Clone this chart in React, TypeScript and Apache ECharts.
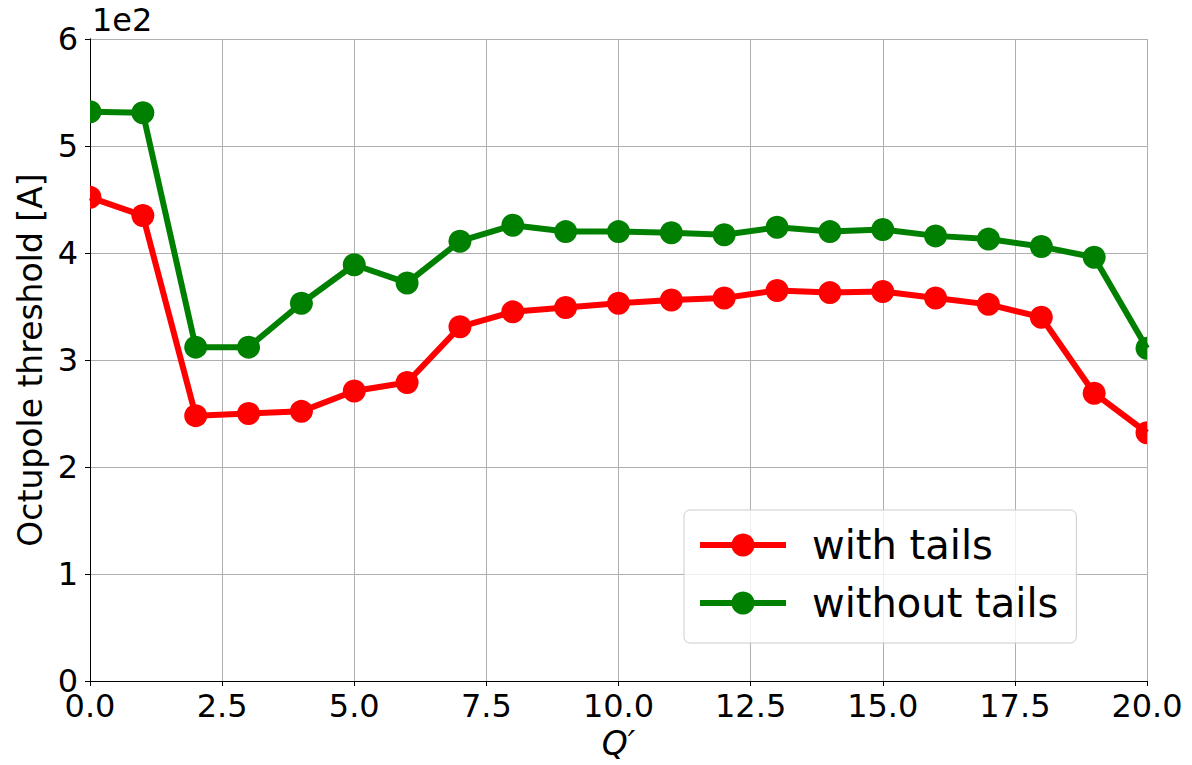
import React, { useEffect, useRef } from "react";
import * as echarts from "echarts";

const qPrime = [0, 1, 2, 3, 4, 5, 6, 7, 8, 9, 10, 11, 12, 13, 14, 15, 16, 17, 18, 19, 20];
const withTails = [452, 435, 248, 250, 252, 271, 279, 331, 345, 349, 353, 356, 358, 365, 363, 364, 358, 352, 340, 269, 232];
const withoutTails = [532, 531, 312, 312, 353, 389, 372, 411, 426, 420, 420, 419, 417, 424, 420, 422, 416, 413, 406, 396, 311];
const xTicks = { min: 0, max: 20, interval: 2.5 };
const yTicks = { min: 0, max: 600, interval: 100 };
const seriesNames = ["with tails", "without tails"];
const seriesColors = ["#ff0000", "#008000"];

const FONT = "DejaVu Sans";

export default function App() {
  const ref = useRef<HTMLDivElement>(null);
  useEffect(() => {
    if (!ref.current) return;
    const chart = echarts.init(ref.current, undefined, { renderer: "svg" });
    const datasets = [withTails, withoutTails];
    const series: any[] = [];
    datasets.forEach((vals, i) => {
      const pts = qPrime.map((q, k) => [q, vals[k]]);
      series.push({
        name: seriesNames[i],
        type: "line",
        data: pts,
        symbol: "circle",
        symbolSize: 23,
        showSymbol: false,
        clip: true,
        lineStyle: { color: seriesColors[i], width: 6 },
        itemStyle: { color: seriesColors[i] },
        z: 2,
      });
      series.push({
        name: seriesNames[i] + " markers",
        type: "custom",
        data: pts,
        clip: true,
        encode: { x: 0, y: 1 },
        z: 3,
        renderItem: (params: any, api: any) => {
          const p = api.coord([api.value(0), api.value(1)]);
          return {
            type: "circle",
            shape: { cx: p[0], cy: p[1], r: 11.5 },
            style: { fill: seriesColors[i] },
          };
        },
      });
    });

    chart.setOption({
      animation: false,
      backgroundColor: "#ffffff",
      textStyle: { fontFamily: FONT },
      grid: { left: 90, right: 45, top: 39, bottom: 81, containLabel: false },
      legend: {
        data: seriesNames,
        orient: "vertical",
        left: 684,
        top: 510,
        itemWidth: 86,
        itemHeight: 29,
        itemGap: 18,
        padding: [15, 18, 20, 13],
        backgroundColor: "rgba(255,255,255,0.8)",
        borderColor: "#cccccc",
        borderWidth: 1,
        borderRadius: 6,
        lineStyle: { width: 6 },
        textStyle: {
          fontFamily: FONT,
          fontSize: 40,
          color: "#000",
          lineHeight: 40,
          padding: [0, 0, 0, 21],
        },
      },
      xAxis: [
        {
          type: "value",
          min: xTicks.min,
          max: xTicks.max,
          interval: xTicks.interval,
          name: "Q\u2032",
          nameLocation: "middle",
          nameGap: 46,
          nameTextStyle: { fontFamily: FONT, fontSize: 33, fontStyle: "italic", color: "#000" },
          axisLine: { show: true, lineStyle: { color: "#000", width: 1 } },
          axisTick: { show: true, length: 5, lineStyle: { color: "#000" } },
          axisLabel: {
            fontFamily: FONT,
            fontSize: 32,
            color: "#000",
            margin: 9,
            formatter: (v: number) => v.toFixed(1),
          },
          splitLine: { show: true, lineStyle: { color: "#b0b0b0", width: 1 } },
        },
        {
          type: "value",
          position: "top",
          min: xTicks.min,
          max: xTicks.max,
          interval: xTicks.interval,
          axisLine: { show: true, lineStyle: { color: "#000", width: 1 } },
          axisTick: { show: false },
          axisLabel: { show: false },
          splitLine: { show: false },
        },
      ],
      yAxis: [
        {
          type: "value",
          min: yTicks.min,
          max: yTicks.max,
          interval: yTicks.interval,
          name: "Octupole threshold [A]",
          nameLocation: "middle",
          nameGap: 42,
          nameTextStyle: { fontFamily: FONT, fontSize: 33, color: "#000" },
          axisLine: { show: true, lineStyle: { color: "#000", width: 1 } },
          axisTick: { show: true, length: 5, lineStyle: { color: "#000" } },
          axisLabel: {
            fontFamily: FONT,
            fontSize: 32,
            color: "#000",
            margin: 12,
            formatter: (v: number) => String(v / 100),
          },
          splitLine: { show: true, lineStyle: { color: "#b0b0b0", width: 1 } },
        },
        {
          type: "value",
          position: "right",
          min: yTicks.min,
          max: yTicks.max,
          interval: yTicks.interval,
          axisLine: { show: true, lineStyle: { color: "#000", width: 1 } },
          axisTick: { show: false },
          axisLabel: { show: false },
          splitLine: { show: false },
        },
      ],
      graphic: [
        {
          type: "text",
          left: 92,
          top: 4,
          style: { text: "1e2", fontFamily: FONT, fontSize: 32, fill: "#000" },
        },
      ],
      series,
    });
    return () => chart.dispose();
  }, []);
  return (
    <div
      ref={ref}
      style={{ position: "absolute", left: 0, top: 0, width: 1192, height: 765 }}
    />
  );
}
